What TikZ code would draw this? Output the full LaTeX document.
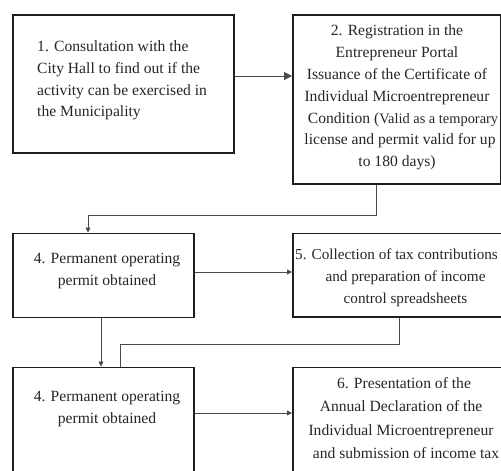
\documentclass[tikz,border=0pt]{standalone}
\usepackage{fontspec}
\setmainfont{Liberation Serif}
\usetikzlibrary{arrows.meta}
\definecolor{boxline}{HTML}{1E1E1E}
\definecolor{conn}{HTML}{4A4A4A}
\begin{document}
\begin{tikzpicture}[x=1pt,y=-1pt,
  stepbox/.style={draw=boxline,line width=1.5pt,inner sep=0pt,anchor=north west},
  txt/.style={inner sep=0pt,font=\fontsize{15.6}{21.8}\selectfont,text=black!85},
  conline/.style={draw=conn,line width=0.9pt},
  bigarrow/.style={conline,-{Triangle[length=8pt,width=8pt]}},
  smallarrow/.style={conline,-{Triangle[length=5pt,width=5pt]}}]
\useasboundingbox (0,0) rectangle (501,471);
\fill[white] (0,0) rectangle (501,471);
\clip (0,0) rectangle (501,471);
% boxes
\node[stepbox,minimum width=221,minimum height=138] (b1) at (12,14) {};
\node[stepbox,minimum width=208,minimum height=169] (b2) at (292,14) {};
\node[stepbox,minimum width=181,minimum height=84] (b4a) at (12,232.5) {};
\node[stepbox,minimum width=232,minimum height=83.5] (b5) at (292,232.5) {};
\node[stepbox,minimum width=181,minimum height=130] (b4b) at (12,366.5) {};
\node[stepbox,minimum width=232,minimum height=130] (b6) at (292,366.5) {};
% texts
\node[txt,align=left,anchor=west] (t1) at (37,80.5) {1. Consultation with the\\City Hall to find out if the\\activity can be exercised in\\the Municipality};
\node[txt,align=center] (t2) at (397,97.5) {2. Registration in the\\Entrepreneur Portal\\Issuance of the Certificate of\\Individual Microentrepreneur\\\hspace*{12pt}Condition ({\fontsize{14.4}{21.8}\selectfont Valid as a temporary}\\\hspace*{6pt}license and permit valid for up\\to 180 days)};
\node[txt,align=center] (t4a) at (107,271) {4. Permanent operating\\permit obtained};
\node[txt,align=center,anchor=west,font=\fontsize{15.2}{21.8}\selectfont] (t5) at (295,277.5) {5. Collection of tax contributions\\\hspace*{18pt}and preparation of income\\\hspace*{18pt}control spreadsheets};
\node[txt,align=center] (t4b) at (107,409) {4. Permanent operating\\permit obtained};
\node[txt,align=center,font=\fontsize{15.6}{23.3}\selectfont] (t6) at (401,418) {\hspace*{6pt}6. Presentation of the\\Annual Declaration of the\\Individual Microentrepreneur\\\hspace*{10pt}and submission of income tax};
% connectors
\coordinate (c2a) at (376,215);
\coordinate (c2b) at (88,215);
\coordinate (c5a) at (399,344);
\coordinate (c5b) at (120,344);
\draw[bigarrow] (b1.east |- 0,76) -- (b2.west |- 0,76);
\draw[smallarrow] (b2.south -| c2a) -- (c2a) -- (c2b) -- (b4a.north -| c2b);
\draw[smallarrow] (b4a.east |- 0,272) -- (b5.west |- 0,272);
\draw[smallarrow] (b4a.south -| 101,0) -- (b4b.north -| 101,0);
\draw[conline] (b5.south -| c5a) -- (c5a) -- (c5b) -- (b4b.north -| c5b);
\draw[smallarrow] (b4b.east |- 0,413) -- (b6.west |- 0,413);
\end{tikzpicture}
\end{document}
